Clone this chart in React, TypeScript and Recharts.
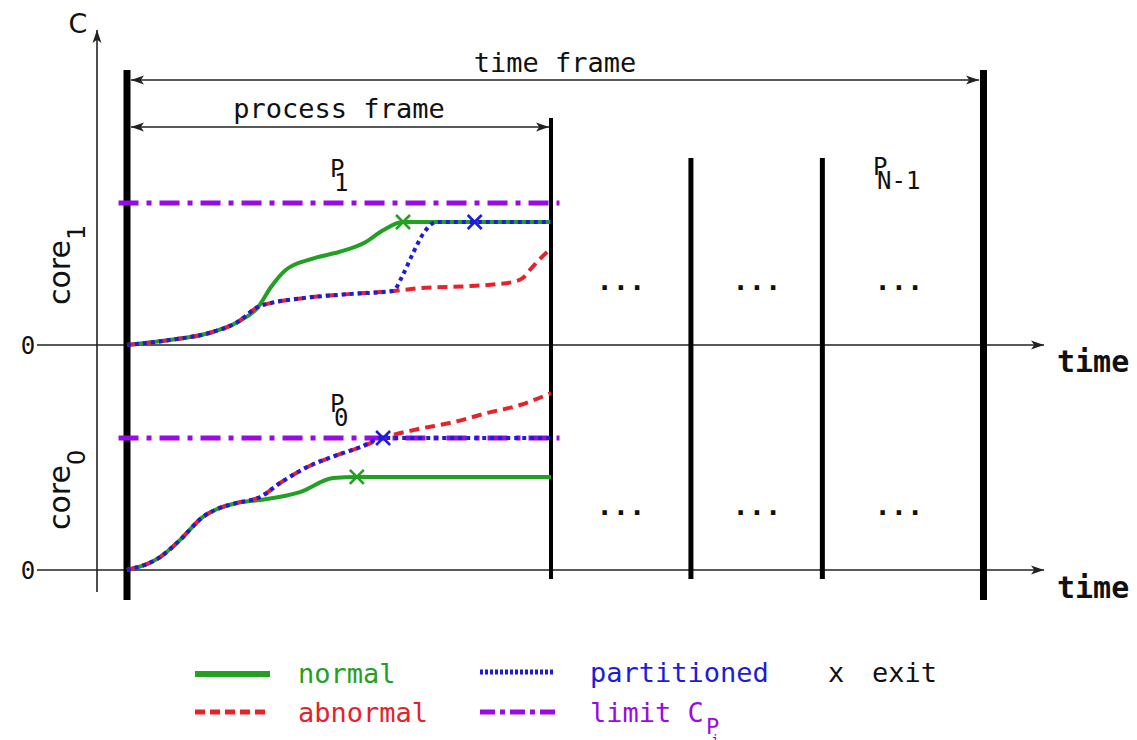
import React from "react";
import {
  ComposedChart,
  Line,
  Scatter,
  XAxis,
  YAxis,
  ReferenceLine,
  ReferenceDot,
  Legend,
} from "recharts";

const W = 1137;
const H = 740;

// time is measured in % of one process frame (0 = start, 100 = end of P0/P1)
const timeFrame = [0, 202];
const processEnd = 100;
const slotEdges = [133, 164];

// cumulative C of core 1 (limit C_P = 100)
const core1Normal = [
  { t: 0, c: 0 }, { t: 10, c: 3.5 }, { t: 20, c: 9 }, { t: 26, c: 16 }, { t: 31, c: 27 },
  { t: 34, c: 41 }, { t: 37.5, c: 53 }, { t: 44, c: 61 }, { t: 50, c: 65.5 }, { t: 56, c: 72 },
  { t: 60.5, c: 81 }, { t: 65, c: 86.6 }, { t: 100, c: 86.6 },
];
const core1Partitioned = [
  { t: 0, c: 0 }, { t: 10, c: 3.5 }, { t: 20, c: 9 }, { t: 26, c: 16 }, { t: 31, c: 27 },
  { t: 34, c: 29.6 }, { t: 41.5, c: 33 }, { t: 53, c: 36 }, { t: 62.7, c: 38 }, { t: 65, c: 49 },
  { t: 67.5, c: 65 }, { t: 70, c: 79 }, { t: 73, c: 86.6 }, { t: 100, c: 86.6 },
];
const core1Abnormal = [
  { t: 0, c: 0 }, { t: 10, c: 3.5 }, { t: 20, c: 9 }, { t: 26, c: 16 }, { t: 31, c: 27 },
  { t: 34, c: 29.6 }, { t: 41.5, c: 33 }, { t: 53, c: 36 }, { t: 62.7, c: 38 }, { t: 69, c: 40 },
  { t: 81, c: 41.5 }, { t: 87, c: 42.8 }, { t: 91, c: 44.4 }, { t: 93.5, c: 47.5 },
  { t: 95, c: 52.8 }, { t: 97.4, c: 60.6 }, { t: 100, c: 68 },
];

// cumulative C of core 0
const core0Normal = [
  { t: 0, c: 0 }, { t: 7.8, c: 9.8 }, { t: 12.5, c: 22.7 }, { t: 17.9, c: 40.2 }, { t: 21.9, c: 47 },
  { t: 25.9, c: 50.8 }, { t: 31.4, c: 53 }, { t: 40.8, c: 59 }, { t: 48.6, c: 69.7 },
  { t: 54.2, c: 70.5 }, { t: 100, c: 70.5 },
];
const core0Partitioned = [
  { t: 0, c: 0 }, { t: 7.8, c: 9.8 }, { t: 12.5, c: 22.7 }, { t: 17.9, c: 40.2 }, { t: 21.9, c: 47 },
  { t: 25.9, c: 50.8 }, { t: 31.4, c: 55.3 }, { t: 36.1, c: 65.9 }, { t: 42.5, c: 78 },
  { t: 49.5, c: 87 }, { t: 55, c: 93 }, { t: 60.4, c: 100 }, { t: 100, c: 100 },
];
const core0Abnormal = [
  { t: 0, c: 0 }, { t: 7.8, c: 9.8 }, { t: 12.5, c: 22.7 }, { t: 17.9, c: 40.2 }, { t: 21.9, c: 47 },
  { t: 25.9, c: 50.8 }, { t: 31.4, c: 55.3 }, { t: 36.1, c: 65.9 }, { t: 42.5, c: 78 },
  { t: 49.5, c: 87 }, { t: 55, c: 93 }, { t: 60.4, c: 100 }, { t: 67.5, c: 106 },
  { t: 77, c: 112 }, { t: 85, c: 119 }, { t: 92.7, c: 125 }, { t: 100, c: 134 },
];

const limitLine = [{ t: -2, c: 100 }, { t: 102, c: 100 }];

// exit points
const exitNormal1 = [{ t: 65.1, c: 86.6 }];
const exitPartitioned1 = [{ t: 82, c: 86.6 }];
const exitNormal0 = [{ t: 54.2, c: 70.5 }];
const exitPartitioned0 = [{ t: 60.4, c: 100 }];

const GREEN = "#22a022";
const RED = "#e6222a";
const BLUE = "#1c1cdc";
const PURPLE = "#9a0ae6";
const INK = "#111";
const MONO = "'DejaVu Sans Mono', monospace";
const SANS = "'DejaVu Sans', sans-serif";

// layout: where t=0 / C=0 sit on the page and how many pixels one unit takes
const X0 = 127, PX_T = 4.24;
const Y1 = 345, PX_C1 = 1.42;
const Y0 = 570, PX_C0 = 1.32;
const T_DOMAIN = [-X0 / PX_T, (W - X0) / PX_T];
const C1_DOMAIN = [-(H - Y1) / PX_C1, Y1 / PX_C1];
const C0_DOMAIN = [-(H - Y0) / PX_C0, Y0 / PX_C0];
const tAt = (px: number) => (px - X0) / PX_T;
const c1At = (py: number) => (Y1 - py) / PX_C1;

function head(ax: number, ay: number, bx: number, by: number, len = 13, half = 4.5) {
  const d = Math.hypot(bx - ax, by - ay) || 1;
  const ux = (bx - ax) / d, uy = (by - ay) / d;
  const nx = -uy, ny = ux;
  const px = bx - ux * len, py = by - uy * len;
  const kx = bx - ux * len * 0.75, ky = by - uy * len * 0.75;
  return `${bx},${by} ${px + nx * half},${py + ny * half} ${kx},${ky} ${px - nx * half},${py - ny * half}`;
}

const arrow = (both: boolean) => (p: any) => {
  const { x1, y1, x2, y2 } = p;
  return (
    <g>
      <line x1={x1} y1={y1} x2={x2} y2={y2} stroke="#222" strokeWidth={1.6} />
      <polygon points={head(x1, y1, x2, y2)} fill="#222" />
      {both && <polygon points={head(x2, y2, x1, y1)} fill="#222" />}
    </g>
  );
};

const cross = (color: string) => (p: any) => {
  const { cx, cy } = p;
  const s = 7;
  return (
    <g stroke={color} strokeWidth={2.6}>
      <line x1={cx - s} y1={cy - s} x2={cx + s} y2={cy + s} />
      <line x1={cx - s} y1={cy + s} x2={cx + s} y2={cy - s} />
    </g>
  );
};

// text placed through the chart's own scales
const note = (key: string, px: number, py: number, draw: (x: number, y: number) => React.ReactNode) => (
  <ReferenceDot
    key={key}
    yAxisId="core1"
    x={tAt(px)}
    y={c1At(py)}
    r={0}
    fill="none"
    stroke="none"
    label={(p: any) => {
      const vb = p.viewBox || {};
      return <g>{draw((vb.x || 0) + (vb.width || 0) / 2, (vb.y || 0) + (vb.height || 0) / 2)}</g>;
    }}
  />
);

const procLabel = (main: string, sub: string) => (x: number, y: number) => (
  <text x={x} y={y} fontFamily={MONO} fontSize={24} fill={INK}>
    {main}
    <tspan x={x + 4} dy={14}>{sub}</tspan>
  </text>
);

const coreLabel = (sub: string) => (x: number, y: number) => (
  <text x={x} y={y} transform={`rotate(-90 ${x} ${y})`} fontFamily={SANS} fontSize={30} fill={INK}>
    core
    <tspan dy={15} fontSize={24}>{sub}</tspan>
  </text>
);

const dots = (x: number, y: number) => (
  <text x={x} y={y} textAnchor="middle" fontFamily={MONO} fontSize={27} fontWeight="bold" fill={INK}>...</text>
);

const timeWord = (x: number, y: number) => (
  <text x={x} y={y} fontFamily={MONO} fontSize={30} fontWeight="bold" fill={INK}>time</text>
);

const zero = (x: number, y: number) => (
  <text x={x} y={y} textAnchor="middle" fontFamily={MONO} fontSize={24} fill={INK}>0</text>
);

const renderLegend = () => (
  <svg width={W} height={100} style={{ display: "block" }}>
    <line x1={195} x2={270} y1={34} y2={34} stroke={GREEN} strokeWidth={6} />
    <text x={298} y={43} fontFamily={MONO} fontSize={27} fill={GREEN}>normal</text>
    <line x1={480} x2={555} y1={32} y2={32} stroke={BLUE} strokeWidth={5} strokeDasharray="3 2" />
    <text x={590} y={42} fontFamily={MONO} fontSize={27} fill={BLUE}>partitioned</text>
    <text x={828} y={42} fontFamily={MONO} fontSize={27} fill={INK}>x</text>
    <text x={872} y={42} fontFamily={MONO} fontSize={27} fill={INK}>exit</text>
    <line x1={195} x2={270} y1={72} y2={72} stroke={RED} strokeWidth={5} strokeDasharray="10 5" />
    <text x={298} y={82} fontFamily={MONO} fontSize={27} fill={RED}>abnormal</text>
    <line x1={480} x2={555} y1={72} y2={72} stroke={PURPLE} strokeWidth={5} strokeDasharray="15 5 5 5" />
    <text x={590} y={82} fontFamily={MONO} fontSize={27} fill={PURPLE}>
      limit C
      <tspan x={706} dy={12} fontSize={22}>P</tspan>
      <tspan x={711} dy={11} fontSize={14}>i</tspan>
    </text>
  </svg>
);

export default function App() {
  return (
    <div style={{ position: "absolute", left: 0, top: 0, width: W, height: H, background: "#fff" }}>
      <ComposedChart width={W} height={H} margin={{ top: 0, right: 0, bottom: 0, left: 0 }}>
        <XAxis type="number" dataKey="t" domain={T_DOMAIN} hide allowDataOverflow />
        <YAxis yAxisId="core1" type="number" domain={C1_DOMAIN} hide allowDataOverflow />
        <YAxis yAxisId="core0" type="number" domain={C0_DOMAIN} hide allowDataOverflow />

        {/* C axis and the two time axes */}
        <ReferenceLine yAxisId="core1" segment={[{ x: tAt(97), y: c1At(592) }, { x: tAt(97), y: c1At(30) }]} shape={arrow(false)} />
        <ReferenceLine yAxisId="core1" segment={[{ x: tAt(37), y: 0 }, { x: tAt(1044), y: 0 }]} shape={arrow(false)} />
        <ReferenceLine yAxisId="core0" segment={[{ x: tAt(37), y: 0 }, { x: tAt(1044), y: 0 }]} shape={arrow(false)} />

        {/* frame borders */}
        {timeFrame.map((t) => (
          <ReferenceLine key={`tf${t}`} yAxisId="core1" segment={[{ x: t, y: c1At(70) }, { x: t, y: c1At(600) }]} stroke="#000" strokeWidth={7} />
        ))}
        <ReferenceLine yAxisId="core1" segment={[{ x: processEnd, y: c1At(118) }, { x: processEnd, y: c1At(579) }]} stroke="#000" strokeWidth={4} />
        {slotEdges.map((t) => (
          <ReferenceLine key={`se${t}`} yAxisId="core1" segment={[{ x: t, y: c1At(158) }, { x: t, y: c1At(579) }]} stroke="#000" strokeWidth={5} />
        ))}

        {/* time frame / process frame spans */}
        <ReferenceLine yAxisId="core1" segment={[{ x: tAt(131), y: c1At(80) }, { x: tAt(979), y: c1At(80) }]} shape={arrow(true)} />
        <ReferenceLine yAxisId="core1" segment={[{ x: tAt(131), y: c1At(127) }, { x: tAt(549), y: c1At(127) }]} shape={arrow(true)} />

        <Line yAxisId="core1" data={limitLine} dataKey="c" type="linear" stroke={PURPLE} strokeWidth={5} strokeDasharray="20 8 5 8" dot={false} activeDot={false} isAnimationActive={false} />
        <Line yAxisId="core0" data={limitLine} dataKey="c" type="linear" stroke={PURPLE} strokeWidth={5} strokeDasharray="20 8 5 8" dot={false} activeDot={false} isAnimationActive={false} />

        <Line yAxisId="core1" data={core1Normal} dataKey="c" type="monotone" stroke={GREEN} strokeWidth={4} dot={false} activeDot={false} isAnimationActive={false} />
        <Line yAxisId="core1" data={core1Abnormal} dataKey="c" type="monotone" stroke={RED} strokeWidth={4} strokeDasharray="10 6" dot={false} activeDot={false} isAnimationActive={false} />
        <Line yAxisId="core1" data={core1Partitioned} dataKey="c" type="monotone" stroke={BLUE} strokeWidth={4} strokeDasharray="4 4" dot={false} activeDot={false} isAnimationActive={false} />

        <Line yAxisId="core0" data={core0Normal} dataKey="c" type="monotone" stroke={GREEN} strokeWidth={4} dot={false} activeDot={false} isAnimationActive={false} />
        <Line yAxisId="core0" data={core0Abnormal} dataKey="c" type="monotone" stroke={RED} strokeWidth={4} strokeDasharray="10 6" dot={false} activeDot={false} isAnimationActive={false} />
        <Line yAxisId="core0" data={core0Partitioned} dataKey="c" type="monotone" stroke={BLUE} strokeWidth={4} strokeDasharray="4 4" dot={false} activeDot={false} isAnimationActive={false} />

        <Scatter yAxisId="core1" data={exitNormal1} dataKey="c" shape={cross(GREEN)} isAnimationActive={false} />
        <Scatter yAxisId="core1" data={exitPartitioned1} dataKey="c" shape={cross(BLUE)} isAnimationActive={false} />
        <Scatter yAxisId="core0" data={exitNormal0} dataKey="c" shape={cross(GREEN)} isAnimationActive={false} />
        <Scatter yAxisId="core0" data={exitPartitioned0} dataKey="c" shape={cross(BLUE)} isAnimationActive={false} />

        {note("C", 78, 33, (x, y) => (
          <text x={x} y={y} textAnchor="middle" fontFamily={SANS} fontSize={27} fill={INK}>C</text>
        ))}
        {note("z1", 28, 354, zero)}
        {note("z0", 28, 579, zero)}
        {note("core1", 70, 305, coreLabel("1"))}
        {note("core0", 70, 530, coreLabel("0"))}
        {note("tfl", 555, 72, (x, y) => (
          <text x={x} y={y} textAnchor="middle" fontFamily={MONO} fontSize={27} fill={INK}>time frame</text>
        ))}
        {note("pfl", 339, 118, (x, y) => (
          <text x={x} y={y} textAnchor="middle" fontFamily={MONO} fontSize={27} fill={INK}>process frame</text>
        ))}
        {note("p1", 330, 177, procLabel("P", "1"))}
        {note("p0", 330, 412, procLabel("P", "0"))}
        {note("pn", 873, 175, procLabel("P", "N-1"))}
        {[621, 757, 899].map((x) => note(`dt${x}`, x, 290, dots))}
        {[621, 757, 899].map((x) => note(`db${x}`, x, 515, dots))}
        {note("time1", 1057, 372, timeWord)}
        {note("time0", 1057, 598, timeWord)}

        <Legend
          content={renderLegend}
          layout="horizontal"
          verticalAlign="middle"
          align="center"
          wrapperStyle={{ top: 640, left: 0, width: W, height: 100 }}
        />
      </ComposedChart>
    </div>
  );
}
